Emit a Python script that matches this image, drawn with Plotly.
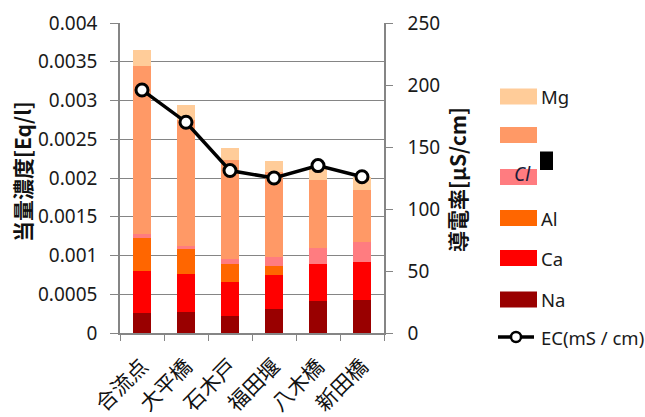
import plotly.graph_objects as go

# Sampling sites along the river
sites = ["合流点", "大平橋", "石木戸", "福田堰", "八木橋", "新田橋"]

# Equivalent concentrations per ion [Eq/l], stacked bottom to top
na_vals = [0.000254, 0.000267, 0.000215, 0.000306, 0.000410, 0.000422]
ca_vals = [0.000551, 0.000499, 0.000440, 0.000447, 0.000477, 0.000498]
al_vals = [0.000425, 0.000314, 0.000232, 0.000117, 0.0, 0.0]
cl_vals = [0.000050, 0.000040, 0.000065, 0.000116, 0.000213, 0.000260]
ion5_vals = [0.002160, 0.001630, 0.001274, 0.001094, 0.000870, 0.000670]
mg_vals = [0.000216, 0.000190, 0.000155, 0.000140, 0.000180, 0.000160]

# Electrical conductivity [µS/cm]
ec_vals = [196, 170, 131, 125, 135, 126]

# Axis tick labels
left_ticks = [0, 0.0005, 0.001, 0.0015, 0.002, 0.0025, 0.003, 0.0035, 0.004]
left_ticktext = ["0", "0.0005", "0.001", "0.0015", "0.002", "0.0025", "0.003", "0.0035", "0.004"]
right_ticks = [0, 50, 100, 150, 200, 250]

series = [
    ("Na", na_vals, "#990000"),
    ("Ca", ca_vals, "#FF0000"),
    ("Al", al_vals, "#FF6600"),
    ("Cl", cl_vals, "#FF7C80"),
    ("", ion5_vals, "#FF9966"),
    ("Mg", mg_vals, "#FFCC99"),
]

TXT = "Noto Sans"
CJK = "Noto Sans CJK JP"
GRID = "#858585"

fig = go.Figure()
for name, vals, color in series:
    fig.add_trace(go.Bar(
        x=sites, y=vals, name=name, marker=dict(color=color, line=dict(width=0)),
        width=0.4, showlegend=False,
    ))

fig.add_trace(go.Scatter(
    x=sites, y=ec_vals, yaxis="y2", mode="lines+markers", name="EC(mS / cm)",
    line=dict(color="black", width=3.5),
    marker=dict(symbol="circle", size=12, color="white", line=dict(color="black", width=3)),
    showlegend=False,
))

# Plot area in pixels
W, H = 645, 417
PL, PR, PT, PB = 120, 384, 23, 333


def px_x(px):
    return (px - PL) / (PR - PL)


def px_y(py):
    return (PB - py) / (PB - PT)


shapes = []
annotations = []

# Hand-built legend: swatches with labels
legend_rows = [
    ("Mg", "#FFCC99", 96.5),
    ("", "#FF9966", 135),
    ("Cl", "#FF7C80", 177),
    ("Al", "#FF6600", 218),
    ("Ca", "#FF0000", 258),
    ("Na", "#990000", 299.5),
]
for label, color, cy in legend_rows:
    shapes.append(dict(type="rect", xref="paper", yref="paper",
                       x0=px_x(500), x1=px_x(537), y0=px_y(cy + 8), y1=px_y(cy - 8),
                       fillcolor=color, line=dict(width=0), layer="above"))
    if label and label != "Cl":
        annotations.append(dict(text=label, xref="paper", yref="paper",
                                x=px_x(539), y=px_y(cy), xanchor="left", yanchor="middle",
                                showarrow=False, font=dict(family=TXT, size=18.5, color="#1a1a1a")))

# Cl entry label drawn over its swatch, with the black marker box
annotations.append(dict(text="<i>Cl</i>", xref="paper", yref="paper",
                        x=px_x(512), y=px_y(174), xanchor="left", yanchor="middle",
                        showarrow=False, font=dict(family=TXT, size=19, color="#1b1b3a")))
shapes.append(dict(type="rect", xref="paper", yref="paper",
                   x0=px_x(540), x1=px_x(553), y0=px_y(170), y1=px_y(151.5),
                   fillcolor="black", line=dict(width=0), layer="above"))

# EC legend entry
shapes.append(dict(type="line", xref="paper", yref="paper",
                   x0=px_x(498), x1=px_x(534), y0=px_y(337), y1=px_y(337),
                   line=dict(color="black", width=3.5), layer="above"))
shapes.append(dict(type="circle", xref="paper", yref="paper",
                   x0=px_x(511), x1=px_x(521), y0=px_y(342), y1=px_y(332),
                   fillcolor="white", line=dict(color="black", width=2.5), layer="above"))
annotations.append(dict(text="EC(mS / cm)", xref="paper", yref="paper",
                        x=px_x(539), y=px_y(337), xanchor="left", yanchor="middle",
                        showarrow=False, font=dict(family=TXT, size=18.5, color="#1a1a1a")))

# Axis titles
annotations.append(dict(text="<b>当量濃度[Eq/l]</b>", xref="paper", yref="paper",
                        x=px_x(22), y=px_y(172), xanchor="center", yanchor="middle",
                        textangle=-90, showarrow=False,
                        font=dict(family=CJK, size=21, color="#111")))
annotations.append(dict(text="<b>導電率[μS/cm]</b>", xref="paper", yref="paper",
                        x=px_x(457), y=px_y(180), xanchor="center", yanchor="middle",
                        textangle=-90, showarrow=False,
                        font=dict(family=CJK, size=21, color="#111")))

fig.update_layout(
    template="none",
    width=W, height=H, autosize=False,
    margin=dict(l=PL, r=W - PR, t=PT, b=H - PB, pad=0),
    paper_bgcolor="white", plot_bgcolor="white",
    barmode="stack", bargap=0.6,
    showlegend=False,
    shapes=shapes, annotations=annotations,
    xaxis=dict(
        type="category", automargin=False,
        showline=True, linecolor=GRID, linewidth=1.5,
        ticks="outside", tickson="boundaries", ticklen=6, tickcolor=GRID, tickwidth=1.2,
        tickangle=-45, ticklabelstandoff=11,
        tickfont=dict(family=CJK, size=21, color="#111"),
        showgrid=False, zeroline=False,
    ),
    yaxis=dict(
        range=[0, 0.004], automargin=False,
        tickvals=left_ticks, ticktext=left_ticktext,
        showline=True, linecolor=GRID, linewidth=1.5,
        ticks="outside", ticklen=8, tickcolor=GRID, tickwidth=1.2, ticklabelstandoff=9,
        tickfont=dict(family=TXT, size=19, color="#1a1a1a"),
        showgrid=True, gridcolor=GRID, gridwidth=1.3, zeroline=False,
    ),
    yaxis2=dict(
        range=[0, 250], overlaying="y", side="right", automargin=False,
        tickvals=right_ticks,
        showline=True, linecolor=GRID, linewidth=1.5,
        ticks="outside", ticklen=7, tickcolor=GRID, tickwidth=1.2, ticklabelstandoff=11,
        tickfont=dict(family=TXT, size=19, color="#1a1a1a"),
        showgrid=False, zeroline=False,
    ),
)

fig.write_html("out.html")
